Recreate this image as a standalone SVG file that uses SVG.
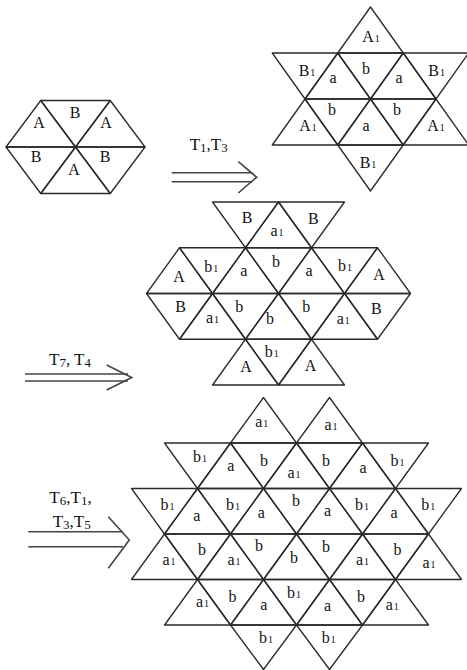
<svg xmlns="http://www.w3.org/2000/svg" width="467" height="670" viewBox="0 0 467 670">
<style>
polygon{fill:none;stroke:#2a2a2a;stroke-width:1.3;stroke-linejoin:round}
.l{font-family:"Liberation Serif",serif;font-size:16px;fill:#111;text-anchor:middle}
.s{font-size:10px}
.al{font-family:"Liberation Serif",serif;font-size:17px;fill:#111;text-anchor:middle}
.d{font-size:13px}
.ar{fill:none;stroke:#444;stroke-width:1.6}
</style>
<rect width="467" height="670" fill="#fff"/>
<g id="fig1">
<polygon points="40.75,100.5 6,147 75.5,147"/>
<polygon points="40.75,100.5 110.25,100.5 75.5,147"/>
<polygon points="110.25,100.5 75.5,147 145,147"/>
<polygon points="6,147 75.5,147 40.75,193.5"/>
<polygon points="75.5,147 40.75,193.5 110.25,193.5"/>
<polygon points="75.5,147 145,147 110.25,193.5"/>
<text class="l" x="39" y="127.5">A</text>
<text class="l" x="75" y="117.5">B</text>
<text class="l" x="106" y="127.5">A</text>
<text class="l" x="36" y="161.5">B</text>
<text class="l" x="74" y="174.5">A</text>
<text class="l" x="105" y="161.5">B</text>
</g>
<g id="fig2">
<polygon points="370.5,7 337.75,53 403.25,53"/>
<polygon points="272.25,53 337.75,53 305,99"/>
<polygon points="337.75,53 305,99 370.5,99"/>
<polygon points="337.75,53 403.25,53 370.5,99"/>
<polygon points="403.25,53 370.5,99 436,99"/>
<polygon points="403.25,53 468.75,53 436,99"/>
<polygon points="305,99 272.25,145 337.75,145"/>
<polygon points="305,99 370.5,99 337.75,145"/>
<polygon points="370.5,99 337.75,145 403.25,145"/>
<polygon points="370.5,99 436,99 403.25,145"/>
<polygon points="436,99 403.25,145 468.75,145"/>
<polygon points="337.75,145 403.25,145 370.5,191"/>
<text class="l" x="371" y="42">A<tspan class="s" dx="1">1</tspan></text>
<text class="l" x="307" y="76">B<tspan class="s" dx="1">1</tspan></text>
<text class="l" x="333" y="82.5">a</text>
<text class="l" x="366" y="73.5">b</text>
<text class="l" x="399" y="82.5">a</text>
<text class="l" x="436.7" y="76">B<tspan class="s" dx="1">1</tspan></text>
<text class="l" x="332" y="114.5">b</text>
<text class="l" x="308" y="131">A<tspan class="s" dx="1">1</tspan></text>
<text class="l" x="366" y="131">a</text>
<text class="l" x="397" y="114.5">b</text>
<text class="l" x="436" y="131">A<tspan class="s" dx="1">1</tspan></text>
<text class="l" x="368" y="168">B<tspan class="s" dx="1">1</tspan></text>
</g>
<g id="fig3">
<polygon points="212.5,202 278.5,202 245.5,247.75"/>
<polygon points="278.5,202 245.5,247.75 311.5,247.75"/>
<polygon points="278.5,202 344.5,202 311.5,247.75"/>
<polygon points="179.5,247.75 146.5,293.5 212.5,293.5"/>
<polygon points="179.5,247.75 245.5,247.75 212.5,293.5"/>
<polygon points="245.5,247.75 212.5,293.5 278.5,293.5"/>
<polygon points="245.5,247.75 311.5,247.75 278.5,293.5"/>
<polygon points="311.5,247.75 278.5,293.5 344.5,293.5"/>
<polygon points="311.5,247.75 377.5,247.75 344.5,293.5"/>
<polygon points="377.5,247.75 344.5,293.5 410.5,293.5"/>
<polygon points="146.5,293.5 212.5,293.5 179.5,339.25"/>
<polygon points="212.5,293.5 179.5,339.25 245.5,339.25"/>
<polygon points="212.5,293.5 278.5,293.5 245.5,339.25"/>
<polygon points="278.5,293.5 245.5,339.25 311.5,339.25"/>
<polygon points="278.5,293.5 344.5,293.5 311.5,339.25"/>
<polygon points="344.5,293.5 311.5,339.25 377.5,339.25"/>
<polygon points="344.5,293.5 410.5,293.5 377.5,339.25"/>
<polygon points="245.5,339.25 212.5,385 278.5,385"/>
<polygon points="245.5,339.25 311.5,339.25 278.5,385"/>
<polygon points="311.5,339.25 278.5,385 344.5,385"/>
<text class="l" x="247" y="222.8">B</text>
<text class="l" x="277" y="235.5">a<tspan class="s" dx="1">1</tspan></text>
<text class="l" x="313.3" y="224.3">B</text>
<text class="l" x="179" y="282">A</text>
<text class="l" x="211.3" y="271.5">b<tspan class="s" dx="1">1</tspan></text>
<text class="l" x="243.7" y="275.6">a</text>
<text class="l" x="276" y="267.2">b</text>
<text class="l" x="309" y="275.6">a</text>
<text class="l" x="345" y="271">b<tspan class="s" dx="1">1</tspan></text>
<text class="l" x="379" y="279.8">A</text>
<text class="l" x="180.5" y="312.3">B</text>
<text class="l" x="212.5" y="322.7">a<tspan class="s" dx="1">1</tspan></text>
<text class="l" x="239.3" y="311.8">b</text>
<text class="l" x="270" y="323.5">b</text>
<text class="l" x="306.3" y="311.8">b</text>
<text class="l" x="343.3" y="323.7">a<tspan class="s" dx="1">1</tspan></text>
<text class="l" x="376.3" y="313.6">B</text>
<text class="l" x="246" y="372.3">A</text>
<text class="l" x="271.7" y="356.5">b<tspan class="s" dx="1">1</tspan></text>
<text class="l" x="310.5" y="371.3">A</text>
</g>
<g id="fig4">
<polygon points="263.5,397.5 230.5,443 296.5,443"/>
<polygon points="329.5,397.5 296.5,443 362.5,443"/>
<polygon points="164.5,443 230.5,443 197.5,488.5"/>
<polygon points="230.5,443 197.5,488.5 263.5,488.5"/>
<polygon points="230.5,443 296.5,443 263.5,488.5"/>
<polygon points="296.5,443 263.5,488.5 329.5,488.5"/>
<polygon points="296.5,443 362.5,443 329.5,488.5"/>
<polygon points="362.5,443 329.5,488.5 395.5,488.5"/>
<polygon points="362.5,443 428.5,443 395.5,488.5"/>
<polygon points="131.5,488.5 197.5,488.5 164.5,534"/>
<polygon points="197.5,488.5 164.5,534 230.5,534"/>
<polygon points="197.5,488.5 263.5,488.5 230.5,534"/>
<polygon points="263.5,488.5 230.5,534 296.5,534"/>
<polygon points="263.5,488.5 329.5,488.5 296.5,534"/>
<polygon points="329.5,488.5 296.5,534 362.5,534"/>
<polygon points="329.5,488.5 395.5,488.5 362.5,534"/>
<polygon points="395.5,488.5 362.5,534 428.5,534"/>
<polygon points="395.5,488.5 461.5,488.5 428.5,534"/>
<polygon points="164.5,534 131.5,579.5 197.5,579.5"/>
<polygon points="164.5,534 230.5,534 197.5,579.5"/>
<polygon points="230.5,534 197.5,579.5 263.5,579.5"/>
<polygon points="230.5,534 296.5,534 263.5,579.5"/>
<polygon points="296.5,534 263.5,579.5 329.5,579.5"/>
<polygon points="296.5,534 362.5,534 329.5,579.5"/>
<polygon points="362.5,534 329.5,579.5 395.5,579.5"/>
<polygon points="362.5,534 428.5,534 395.5,579.5"/>
<polygon points="428.5,534 395.5,579.5 461.5,579.5"/>
<polygon points="197.5,579.5 164.5,625 230.5,625"/>
<polygon points="197.5,579.5 263.5,579.5 230.5,625"/>
<polygon points="263.5,579.5 230.5,625 296.5,625"/>
<polygon points="263.5,579.5 329.5,579.5 296.5,625"/>
<polygon points="329.5,579.5 296.5,625 362.5,625"/>
<polygon points="329.5,579.5 395.5,579.5 362.5,625"/>
<polygon points="395.5,579.5 362.5,625 428.5,625"/>
<polygon points="230.5,625 296.5,625 263.5,669.5"/>
<polygon points="296.5,625 362.5,625 329.5,669.5"/>
<text class="l" x="261.7" y="427">a<tspan class="s" dx="1">1</tspan></text>
<text class="l" x="331" y="430">a<tspan class="s" dx="1">1</tspan></text>
<text class="l" x="200" y="462">b<tspan class="s" dx="1">1</tspan></text>
<text class="l" x="230.8" y="471">a</text>
<text class="l" x="264" y="466">b</text>
<text class="l" x="294" y="477.5">a<tspan class="s" dx="1">1</tspan></text>
<text class="l" x="326" y="465.5">b</text>
<text class="l" x="363" y="472.6">a</text>
<text class="l" x="397.5" y="465.5">b<tspan class="s" dx="1">1</tspan></text>
<text class="l" x="167.5" y="510">b<tspan class="s" dx="1">1</tspan></text>
<text class="l" x="196.7" y="521">a</text>
<text class="l" x="233" y="510">b<tspan class="s" dx="1">1</tspan></text>
<text class="l" x="261.3" y="517.6">a</text>
<text class="l" x="296" y="505.5">b</text>
<text class="l" x="327.5" y="516">a</text>
<text class="l" x="362" y="509.5">b<tspan class="s" dx="1">1</tspan></text>
<text class="l" x="394" y="517.6">a</text>
<text class="l" x="428.3" y="509.5">b<tspan class="s" dx="1">1</tspan></text>
<text class="l" x="169" y="565">a<tspan class="s" dx="1">1</tspan></text>
<text class="l" x="202" y="554.5">b</text>
<text class="l" x="234" y="564.5">a<tspan class="s" dx="1">1</tspan></text>
<text class="l" x="259" y="550.5">b</text>
<text class="l" x="294" y="563">b</text>
<text class="l" x="326" y="551.5">b</text>
<text class="l" x="362.5" y="564.5">a<tspan class="s" dx="1">1</tspan></text>
<text class="l" x="397.5" y="554.5">b</text>
<text class="l" x="429" y="568">a<tspan class="s" dx="1">1</tspan></text>
<text class="l" x="202.5" y="607">a<tspan class="s" dx="1">1</tspan></text>
<text class="l" x="232.5" y="601.5">b</text>
<text class="l" x="263.7" y="609.6">a</text>
<text class="l" x="294" y="598">b<tspan class="s" dx="1">1</tspan></text>
<text class="l" x="327.5" y="611">a</text>
<text class="l" x="361" y="601.5">b</text>
<text class="l" x="392.3" y="610">a<tspan class="s" dx="1">1</tspan></text>
<text class="l" x="266" y="643">b<tspan class="s" dx="1">1</tspan></text>
<text class="l" x="328.7" y="643">b<tspan class="s" dx="1">1</tspan></text>
</g>
<g id="connectors">
<g id="arrow1">
<text class="al" x="208.7" y="150">T<tspan class="d" dy="2">1</tspan><tspan dy="-2">,T</tspan><tspan class="d" dy="2">3</tspan></text>
<line class="ar" x1="171.7" y1="172.7" x2="252" y2="172.7"/>
<line class="ar" x1="171.7" y1="181.7" x2="252" y2="181.7"/>
<polyline class="ar" points="238.3,161.7 256.7,177.2 238.3,193"/>
</g>
<g id="arrow2">
<text class="al" x="70" y="365">T<tspan class="d" dy="2">7</tspan><tspan dy="-2">, T</tspan><tspan class="d" dy="2">4</tspan></text>
<line class="ar" x1="25" y1="374" x2="128" y2="374"/>
<line class="ar" x1="25" y1="381" x2="128" y2="381"/>
<polyline class="ar" points="106.7,365 131.7,377.5 106.7,390"/>
</g>
<g id="arrow3">
<text class="al" x="70.5" y="502.7">T<tspan class="d" dy="2">6</tspan><tspan dy="-2">,T</tspan><tspan class="d" dy="2">1</tspan><tspan dy="-2">,</tspan></text>
<text class="al" x="71.7" y="526.7">T<tspan class="d" dy="2">3</tspan><tspan dy="-2">,T</tspan><tspan class="d" dy="2">5</tspan></text>
<line class="ar" x1="28.3" y1="531.7" x2="123" y2="531.7"/>
<line class="ar" x1="28.3" y1="546.7" x2="123" y2="546.7"/>
<polyline class="ar" points="108.3,516.7 129.3,540 108.3,568.3"/>
</g>
</g>
</svg>
